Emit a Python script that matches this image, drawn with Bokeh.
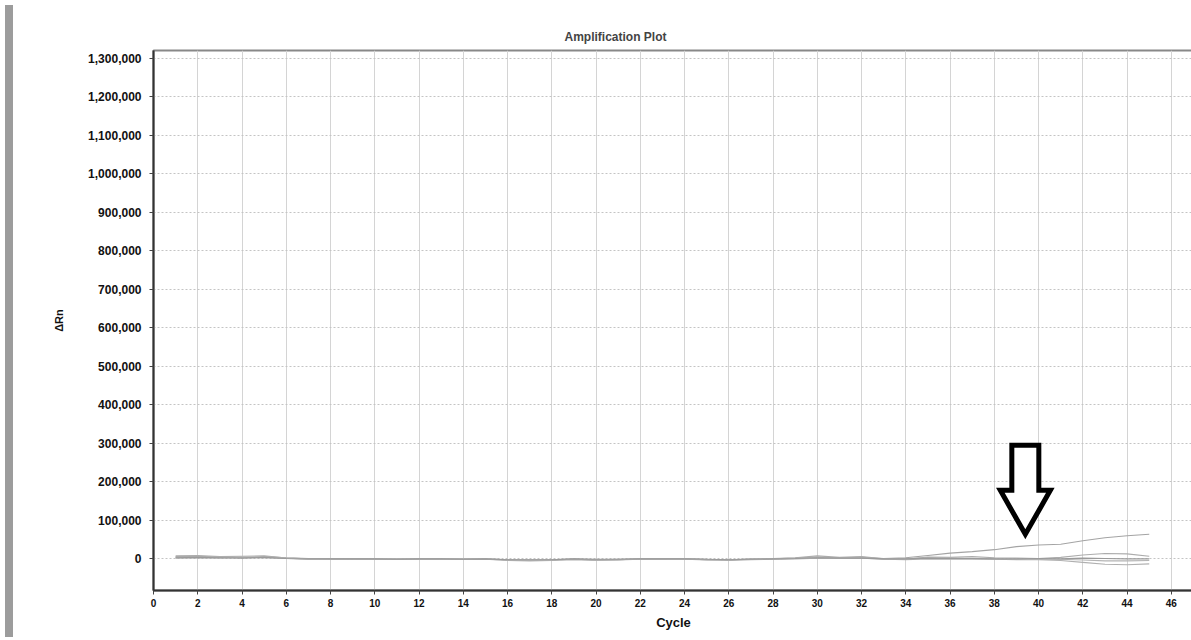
from bokeh.plotting import figure
from bokeh.models import Range1d, FixedTicker, NumeralTickFormatter, Div
from bokeh.layouts import row
from bokeh.embed import file_html
from bokeh.resources import INLINE

# ---- data ----
cycles = list(range(1, 46))

curve_a = [6000, 7000, 5000, 3000, 6000, 3000, 1000, 0, 0, -1000,
           0, -1000, 0, 0, -1000, -3000, -4000, -3000, -1000, -3000,
           -2000, 0, 1000, 0, -2000, -3000, -1000, 0, 2000, 5000,
           3000, 4000, 1000, 3000, 9000, 15000, 19000, 24000, 32000, 36000,
           38000, 47000, 55000, 60000, 64000]
curve_b = [8000, 9000, 6000, 7000, 8000, 2000, 0, 1000, 0, 0,
           -1000, 0, 0, 1000, 0, -2000, -3000, -2000, 0, -2000,
           -1000, 0, 0, 1000, -1000, -2000, 0, 1000, 3000, 8000,
           4000, 6000, 0, -1000, 5000, 4000, 6000, 3000, 2000, 1000,
           4000, 10000, 14000, 13000, 7000]
curve_c = [2000, 3000, 2000, 4000, 3000, 1000, 0, -1000, 0, -1000,
           -1000, 0, -1000, 0, -1000, -4000, -5000, -4000, -2000, -4000,
           -3000, -1000, 0, -1000, -3000, -4000, -2000, -1000, 0, 2000,
           1000, 2000, -1000, -2000, 0, -1000, 0, -1000, -2000, -2000,
           -4000, -9000, -14000, -15000, -13000]
curve_d = [4000, 5000, 4000, 5000, 5000, 2000, 0, 0, -1000, 0,
           0, -1000, 0, 0, 0, -2000, -3000, -2000, -1000, -2000,
           -2000, 0, 0, 0, -2000, -2000, -1000, 0, 1000, 4000,
           2000, 3000, 0, 1000, 3000, 2000, 1000, 0, -1000, 0,
           -1000, -3000, -5000, -5000, -4000]
curve_e = [3000, 4000, 3000, 2000, 4000, 1000, 0, 0, 0, 0,
           -1000, 0, 0, -1000, 0, -2000, -2000, -2000, 0, -1000,
           -1000, 0, 0, 0, -1000, -2000, -1000, 0, 1000, 3000,
           2000, 2000, 0, 0, 2000, 1000, 1000, 0, 0, 1000,
           0, 2000, 1000, 0, 0]

series = [curve_a, curve_b, curve_c, curve_d, curve_e]
series_colors = ["#a4a4a4", "#acacac", "#b0b0b0", "#b4b4b4", "#9a9a9a"]

x_ticks = list(range(0, 47, 2))
y_ticks = [0, 100000, 200000, 300000, 400000, 500000, 600000, 700000,
           800000, 900000, 1000000, 1100000, 1200000, 1300000]

# arrow annotation outline (cycle, dRn)
arrow_x = [38.79, 40.01, 40.01, 40.53, 39.40, 38.27, 38.79]
arrow_y = [295000, 295000, 178000, 178000, 64000, 178000, 178000]

# ---- figure ----
p = figure(width=1175, height=632, output_backend="svg", toolbar_location=None,
           x_range=Range1d(0, 47), y_range=Range1d(-82000, 1320000),
           min_border_left=135, min_border_right=0, min_border_top=50,
           min_border_bottom=37)
p.title.text = "Amplification Plot"
p.title.text_font = "Liberation Sans"
p.title.text_font_size = "12px"
p.title.text_font_style = "bold"
p.title.align = "left"
p.title.offset = 411
p.title.standoff = 13

p.background_fill_color = "white"
p.border_fill_color = "white"
p.outline_line_color = "#888888"
p.outline_line_width = 2

for vals, col in zip(series, series_colors):
    p.line(cycles, vals, line_color=col, line_width=1.1)

p.patch(arrow_x, arrow_y, fill_color="white", line_color="black",
        line_width=5, line_join="miter")

# axes
p.xaxis.ticker = FixedTicker(ticks=x_ticks)
p.yaxis.ticker = FixedTicker(ticks=y_ticks)
p.yaxis.formatter = NumeralTickFormatter(format="0,0")
p.xaxis.axis_label = "Cycle"
p.yaxis.axis_label = "ΔRn"
for ax in (p.xaxis[0], p.yaxis[0]):
    ax.axis_line_color = "#333333"
    ax.axis_line_width = 2
    ax.major_tick_line_color = "#444444"
    ax.major_tick_in = 0
    ax.major_tick_out = 4
    ax.minor_tick_line_color = None
    ax.major_label_text_font = "Liberation Sans"
    ax.major_label_text_font_style = "bold"
    ax.major_label_text_color = "#111111"
    ax.axis_label_text_font = "Liberation Sans"
    ax.axis_label_text_font_style = "bold"
    ax.axis_label_text_color = "#111111"
p.xaxis.major_label_text_font_size = "10px"
p.xaxis.major_label_standoff = 4
p.xaxis.axis_label_text_font_size = "13px"
p.xaxis.axis_label_standoff = 5
p.yaxis.major_label_text_font_size = "12px"
p.yaxis.major_label_standoff = 8
p.yaxis.axis_label_text_font_size = "11px"
p.yaxis.axis_label_standoff = 20

p.xgrid.ticker = FixedTicker(ticks=x_ticks)
p.ygrid.ticker = FixedTicker(ticks=y_ticks)
p.xgrid.grid_line_color = "#d4d4d4"
p.xgrid.grid_line_width = 1
p.ygrid.grid_line_color = "#c4c4c4"
p.ygrid.grid_line_dash = "2 2"

bar = Div(width=8, height=632, styles={"background-color": "#9c9c9c"})
layout = row(bar, p)

open("out.html", "w").write(file_html(layout, INLINE))
